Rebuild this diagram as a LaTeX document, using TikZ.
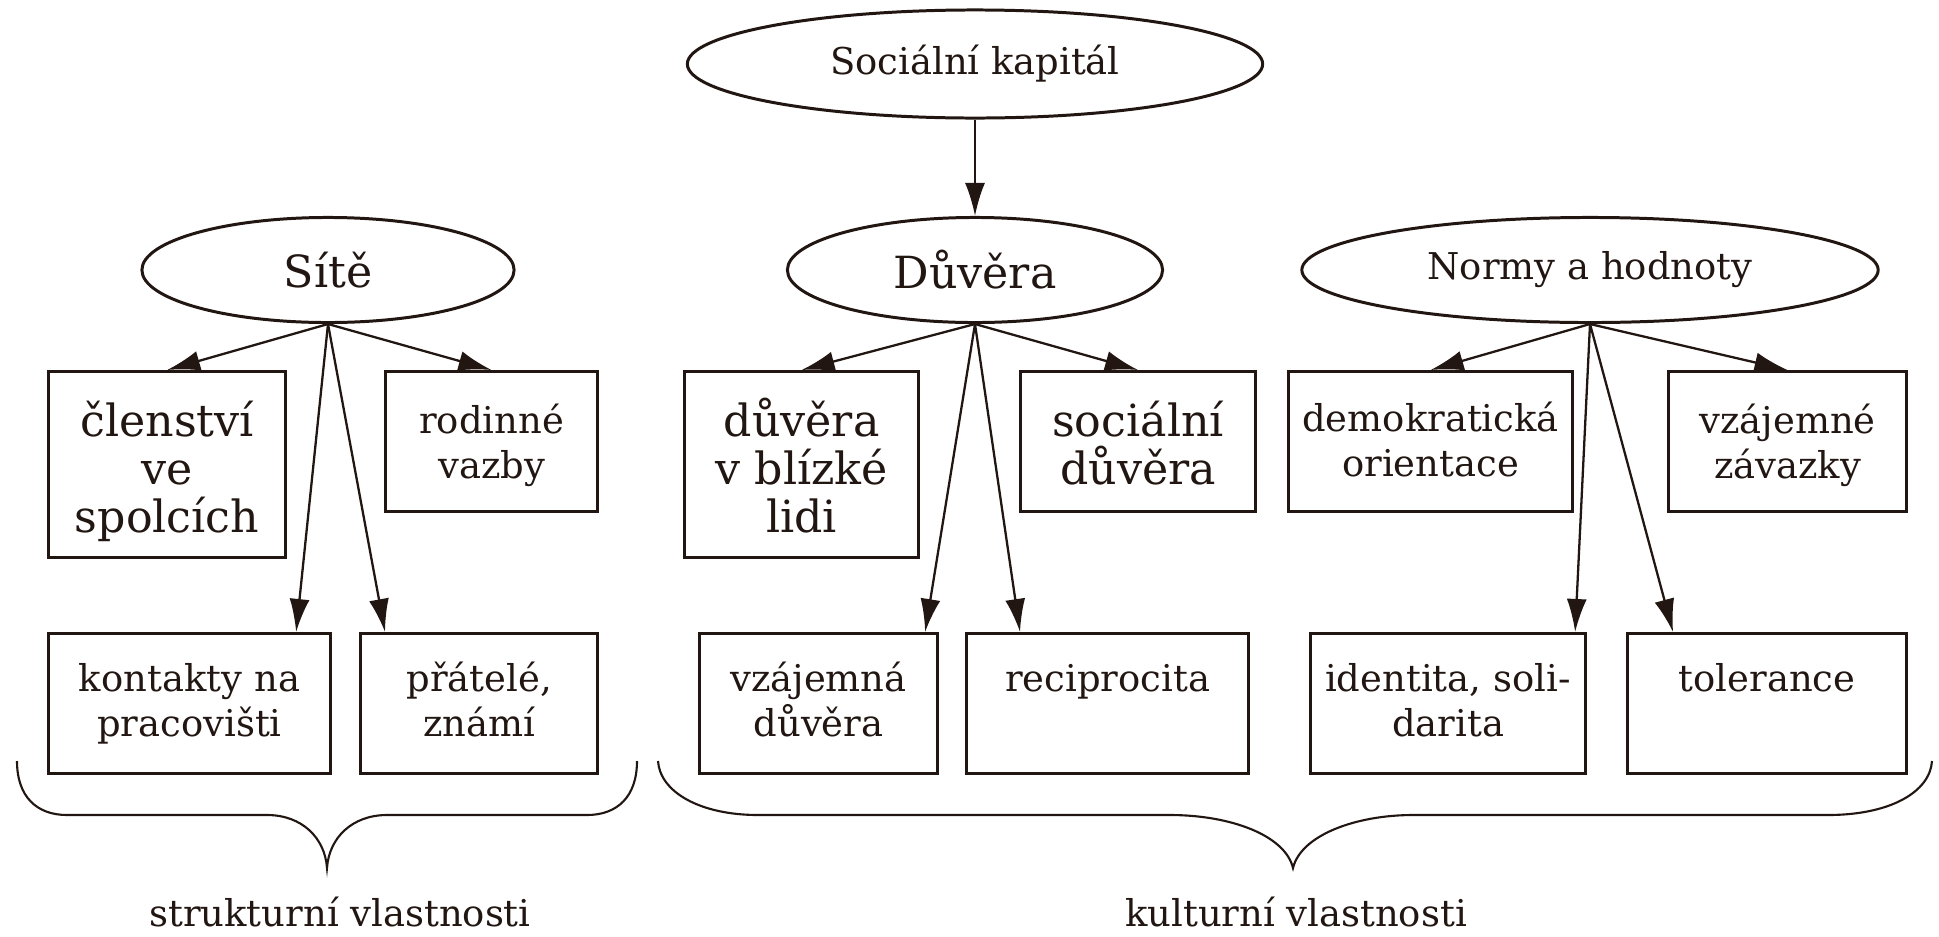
\documentclass[tikz,border=0pt]{standalone}
\usepackage{fontspec}
\setmainfont{DejaVu Serif}
\usetikzlibrary{shapes.geometric,arrows.meta}
\definecolor{ink}{RGB}{33,22,17}

\begin{document}
\begin{tikzpicture}[x=0.01cm, y=-0.01cm]
\tikzset{
    oval/.style={ellipse, draw=ink, line width=0.85pt, inner sep=0pt, text=ink, font=\fontsize{10.5}{12.8}\selectfont},
    bigoval/.style={oval, font=\fontsize{12.6}{13.6}\selectfont},
    box/.style={rectangle, draw=ink, line width=0.85pt, inner sep=0pt, align=center, anchor=north west, text=ink, font=\fontsize{10.5}{12.8}\selectfont},
    bigbox/.style={box, font=\fontsize{12.6}{13.6}\selectfont},
    myarrow/.style={-{Latex[length=3.3mm,width=2mm]}, draw=ink, line width=0.65pt},
    mybrace/.style={draw=ink, line width=0.6pt},
    mylabel/.style={anchor=base, text=ink, inner sep=1pt, font=\fontsize{10.5}{12.8}\selectfont}
}
\useasboundingbox (0,0) rectangle (1939,936);

% ovals
\node[oval, minimum width=5.75cm, minimum height=1.08cm] (kapital) at (975,64) {Sociální kapitál};
\node[bigoval, minimum width=3.72cm, minimum height=1.05cm] (site) at (328,270) {Sítě};
\node[bigoval, minimum width=3.75cm, minimum height=1.05cm] (duvera) at (975,270) {Důvěra};
\node[oval, minimum width=5.76cm, minimum height=1.05cm] (normy) at (1590,270) {Normy a hodnoty};

% upper row
\node[bigbox, text width=2.37cm, text height=0.65cm, text depth=1.21cm] (clenstvi) at (47,370) {členství\\ve\\spolcích};
\node[box, text width=2.12cm, text height=0.62cm, text depth=0.78cm] (rodinne) at (384,370) {rodinné\\vazby};
\node[bigbox, text width=2.34cm, text height=0.65cm, text depth=1.21cm] (blizke) at (683,370) {důvěra\\v blízké\\lidi};
\node[bigbox, text width=2.35cm, text height=0.65cm, text depth=0.75cm] (socialni) at (1019,370) {sociální\\důvěra};
\node[box, text width=2.84cm, text height=0.60cm, text depth=0.80cm] (demokr) at (1287,370) {demokratická\\orientace};
\node[box, text width=2.38cm, text height=0.62cm, text depth=0.78cm] (zavazky) at (1667,370) {vzájemné\\závazky};

% lower row
\node[box, text width=2.82cm, text height=0.58cm, text depth=0.82cm] (kontakty) at (47,632) {kontakty na\\pracovišti};
\node[box, text width=2.37cm, text height=0.58cm, text depth=0.82cm] (pratele) at (359,632) {přátelé,\\známí};
\node[box, text width=2.38cm, text height=0.58cm, text depth=0.82cm] (vzajemna) at (698,632) {vzájemná\\důvěra};
\node[box, text width=2.82cm, text height=0.58cm, text depth=0.82cm] (recipr) at (965,632) {reciprocita};
\node[box, text width=2.75cm, text height=0.58cm, text depth=0.82cm] (identita) at (1309,632) {identita, soli-\\darita};
\node[box, text width=2.79cm, text height=0.58cm, text depth=0.82cm] (toler) at (1626,632) {tolerance};

\draw[myarrow] (kapital.south) -- (duvera.north);

\draw[myarrow] (site.south) -- (clenstvi.north);
\draw[myarrow] (site.south) -- (rodinne.north);
\draw[myarrow] (site.south) -- ([xshift=-0.36cm]kontakty.north east);
\draw[myarrow] (site.south) -- ([xshift=0.26cm]pratele.north west);

\draw[myarrow] (duvera.south) -- (blizke.north);
\draw[myarrow] (duvera.south) -- (socialni.north);
\draw[myarrow] (duvera.south) -- ([xshift=-0.14cm]vzajemna.north east);
\draw[myarrow] (duvera.south) -- ([xshift=0.55cm]recipr.north west);

\draw[myarrow] (normy.south) -- (demokr.north);
\draw[myarrow] (normy.south) -- (zavazky.north);
\draw[myarrow] (normy.south) -- ([xshift=-0.12cm]identita.north east);
\draw[myarrow] (normy.south) -- ([xshift=0.47cm]toler.north west);

% braces
\draw[mybrace] (17,761) .. controls (17,797) and (37,815) .. (67,815) -- (267,815)
    .. controls (302,815) and (325,838) .. (327,868)
    .. controls (329,838) and (352,815) .. (387,815) -- (587,815)
    .. controls (617,815) and (637,797) .. (637,761);
\draw[mybrace] (658,761) .. controls (660,792) and (700,815) .. (758,815) -- (1170,815)
    .. controls (1230,815) and (1285,835) .. (1293,868)
    .. controls (1301,835) and (1356,815) .. (1413,815) -- (1828,815)
    .. controls (1890,815) and (1930,792) .. (1932,761);

\node[mylabel] (struktur) at (340,926) {strukturní vlastnosti};
\node[mylabel] (kultur) at (1296,926) {kulturní vlastnosti};

\end{tikzpicture}
\end{document}
